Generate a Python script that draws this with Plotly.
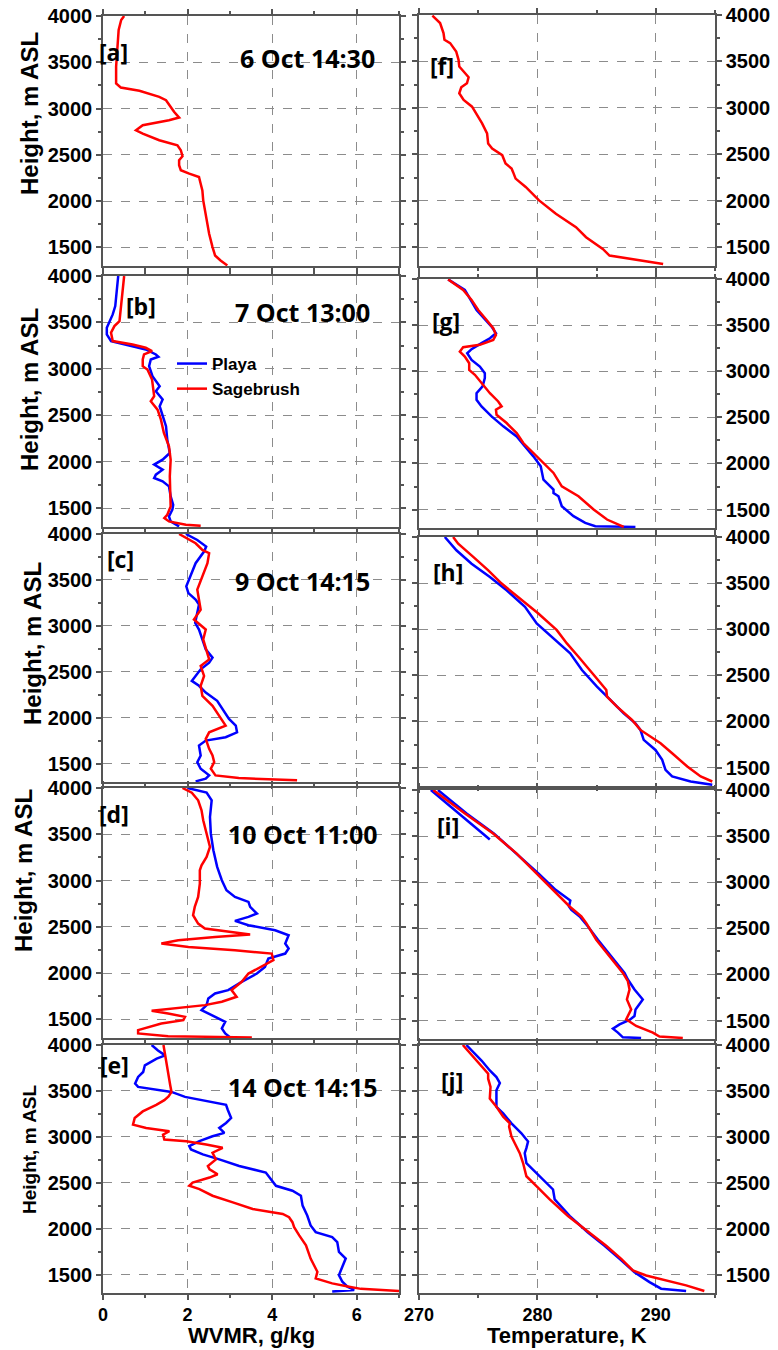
import plotly.graph_objects as go

# ---------------- profile data (height m ASL, value) ----------------
# 6 Oct 14:30
H_A_SAGE = [4000, 3957, 3849, 3704, 3560, 3452, 3271, 3228, 3192, 3127, 3091, 3019, 2965, 2903, 2875, 2820,
            2766, 2730, 2658, 2604, 2550, 2485, 2442, 2388, 2334, 2298, 2261, 2189, 2117, 2009, 1829, 1648,
            1504, 1414, 1360, 1306]
WV_A_SAGE = [0.50, 0.43, 0.37, 0.35, 0.34, 0.31, 0.31, 0.42, 0.86, 1.33, 1.49, 1.60, 1.68, 1.80, 1.56, 0.94,
             0.78, 0.94, 1.33, 1.76, 1.84, 1.88, 1.80, 1.80, 1.84, 2.04, 2.27, 2.31, 2.35, 2.37, 2.44, 2.51,
             2.59, 2.65, 2.78, 2.94]
H_F_SAGE = [3993, 3914, 3806, 3734, 3698, 3608, 3518, 3446, 3392, 3330, 3266, 3222, 3158, 3086, 3014, 2942,
            2834, 2726, 2618, 2564, 2492, 2402, 2348, 2312, 2240, 2150, 2006, 1862, 1718, 1610, 1484, 1412,
            1376, 1322]
T_F_SAGE = [271.13, 271.78, 272.07, 272.15, 272.63, 273.14, 273.34, 273.40, 273.77, 274.19, 274.05, 273.57,
            273.40, 273.77, 274.48, 274.82, 275.33, 275.75, 275.84, 276.18, 277.03, 277.31, 277.82, 277.94,
            278.16, 279.01, 280.14, 281.56, 283.26, 284.11, 285.52, 286.09, 287.79, 290.62]

# 7 Oct 13:00
H_B_PLAYA = [4000, 3820, 3677, 3587, 3497, 3443, 3371, 3300, 3253, 3210, 3156, 3131, 3102, 3030, 2922, 2815,
             2761, 2671, 2599, 2491, 2384, 2240, 2096, 2024, 1971, 1917, 1863, 1827, 1791, 1737, 1629, 1539,
             1486, 1414, 1360, 1306]
WV_B_PLAYA = [0.36, 0.32, 0.29, 0.23, 0.15, 0.09, 0.09, 0.19, 0.62, 1.01, 1.25, 1.31, 1.13, 1.09, 1.17, 1.34,
              1.25, 1.41, 1.34, 1.42, 1.49, 1.52, 1.58, 1.41, 1.21, 1.41, 1.25, 1.21, 1.41, 1.56, 1.60, 1.66,
              1.64, 1.56, 1.60, 1.80]
H_B_SAGE = [4000, 3820, 3641, 3515, 3461, 3389, 3300, 3264, 3228, 3192, 3156, 3102, 3030, 2994, 2886, 2779,
            2707, 2653, 2599, 2563, 2455, 2312, 2168, 2024, 1845, 1665, 1521, 1432, 1396, 1360, 1324, 1313]
WV_B_SAGE = [0.50, 0.46, 0.42, 0.39, 0.27, 0.19, 0.23, 0.70, 1.01, 1.16, 0.97, 0.94, 0.94, 1.05, 1.16, 1.19,
             1.21, 1.13, 1.23, 1.29, 1.37, 1.44, 1.56, 1.60, 1.58, 1.60, 1.60, 1.52, 1.45, 1.56, 1.96, 2.31]
H_G_PLAYA = [3996, 3881, 3664, 3484, 3412, 3358, 3304, 3239, 3195, 3123, 3051, 2979, 2925, 2835, 2762, 2690,
             2618, 2510, 2402, 2293, 2185, 2077, 1969, 1824, 1716, 1680, 1644, 1536, 1428, 1355, 1319, 1312]
T_G_PLAYA = [272.46, 273.87, 274.86, 276.13, 276.50, 275.99, 275.28, 274.44, 274.07, 274.44, 275.14, 275.56,
             275.56, 275.37, 274.86, 274.86, 275.28, 276.13, 277.12, 278.25, 278.95, 279.66, 280.28, 280.51,
             281.36, 281.36, 281.78, 282.06, 283.05, 284.04, 284.89, 288.28]
H_G_SAGE = [3996, 3881, 3773, 3664, 3556, 3466, 3394, 3340, 3286, 3260, 3213, 3159, 3087, 3015, 2961, 2871,
            2762, 2672, 2618, 2582, 2528, 2438, 2330, 2221, 2113, 2005, 1897, 1752, 1644, 1500, 1392, 1312]
T_G_SAGE = [272.46, 273.73, 274.44, 275.00, 275.71, 276.27, 276.50, 276.27, 275.14, 273.73, 273.45, 273.87,
            274.24, 274.24, 274.72, 275.28, 275.99, 276.69, 276.98, 276.50, 276.55, 277.40, 278.25, 278.81,
            279.66, 280.51, 281.36, 282.06, 283.47, 284.75, 285.88, 287.29]

# 9 Oct 14:15
H_C_PLAYA = [4000, 3935, 3863, 3809, 3682, 3538, 3430, 3357, 3285, 3231, 3141, 3033, 2960, 2852, 2744, 2654,
             2599, 2527, 2455, 2401, 2347, 2274, 2184, 2094, 1986, 1914, 1841, 1787, 1751, 1697, 1589, 1516,
             1444, 1372, 1336, 1307]
WV_C_PLAYA = [1.96, 2.23, 2.44, 2.39, 2.19, 2.07, 1.97, 2.02, 2.19, 2.27, 2.23, 2.18, 2.27, 2.35, 2.43, 2.59,
              2.51, 2.31, 2.19, 2.10, 2.27, 2.43, 2.70, 2.82, 2.98, 3.14, 3.17, 2.90, 2.43, 2.27, 2.31, 2.23,
              2.31, 2.51, 2.43, 2.19]
H_C_SAGE = [4000, 3899, 3827, 3791, 3682, 3538, 3394, 3285, 3177, 3069, 2960, 2852, 2744, 2635, 2563, 2455,
            2347, 2238, 2130, 2022, 1914, 1841, 1769, 1661, 1589, 1516, 1444, 1372, 1343, 1318]
WV_C_SAGE = [1.80, 2.19, 2.35, 2.51, 2.47, 2.35, 2.23, 2.27, 2.31, 2.15, 2.43, 2.37, 2.44, 2.51, 2.31, 2.39,
             2.31, 2.35, 2.59, 2.74, 2.90, 2.51, 2.43, 2.51, 2.59, 2.63, 2.55, 2.66, 3.21, 4.59]
H_H_PLAYA = [4000, 3856, 3711, 3567, 3423, 3243, 3062, 2918, 2738, 2557, 2377, 2233, 2088, 1980, 1908, 1800,
             1691, 1583, 1475, 1403, 1349, 1313]
T_H_PLAYA = [272.18, 273.16, 274.44, 275.99, 277.40, 278.95, 279.94, 281.21, 282.77, 283.76, 285.03, 286.16,
             287.29, 288.28, 288.70, 288.98, 289.97, 290.54, 290.82, 291.38, 292.94, 294.77]
H_H_SAGE = [4000, 3928, 3784, 3639, 3495, 3351, 3170, 2990, 2846, 2701, 2557, 2485, 2341, 2269, 2160, 2016,
            1908, 1764, 1655, 1511, 1403, 1349]
T_H_SAGE = [272.88, 273.31, 274.58, 275.85, 276.98, 278.39, 280.08, 281.64, 282.49, 283.47, 284.46, 284.89,
            285.82, 285.88, 286.72, 287.99, 288.70, 290.40, 291.38, 292.66, 293.79, 294.77]

# 10 Oct 11:00
H_D_PLAYA = [4000, 3950, 3867, 3687, 3507, 3327, 3148, 3004, 2896, 2824, 2770, 2716, 2644, 2608, 2565, 2518,
             2464, 2410, 2320, 2266, 2212, 2158, 2068, 1996, 1907, 1817, 1781, 1727, 1655, 1601, 1547, 1475,
             1403, 1349, 1295]
WV_D_PLAYA = [2.00, 2.45, 2.57, 2.53, 2.55, 2.61, 2.70, 2.81, 2.92, 3.12, 3.44, 3.48, 3.64, 3.44, 3.12, 3.44,
              4.07, 4.39, 4.31, 4.39, 4.31, 3.91, 3.83, 3.64, 3.28, 2.96, 2.65, 2.49, 2.45, 2.33, 2.57, 2.89,
              2.81, 2.89, 3.04]
H_D_SAGE = [4000, 3950, 3867, 3759, 3651, 3507, 3363, 3255, 3165, 3112, 2968, 2824, 2716, 2626, 2536, 2482,
            2446, 2417, 2392, 2356, 2320, 2284, 2248, 2212, 2140, 2068, 1996, 1907, 1817, 1745, 1691, 1655,
            1619, 1594, 1565, 1529, 1493, 1457, 1385, 1349, 1320, 1306]
WV_D_SAGE = [1.88, 2.10, 2.25, 2.33, 2.37, 2.45, 2.53, 2.45, 2.33, 2.29, 2.29, 2.25, 2.17, 2.13, 2.25, 2.41,
             2.96, 3.48, 2.65, 1.78, 1.38, 2.02, 3.12, 3.99, 4.03, 3.75, 3.44, 3.28, 3.04, 3.16, 2.81, 2.41,
             1.70, 1.15, 1.54, 1.94, 1.90, 1.38, 0.83, 0.83, 1.54, 3.52]
# the Playa temperature record contains a separate short upper segment (gap marked by None)
H_I_PLAYA = [4000, 3464, None, 4000, 3745, 3529, 3313, 3097, 2917, 2802, 2737, 2701, 2629, 2521, 2377, 2197,
             2017, 1945, 1837, 1729, 1621, 1549, 1506, 1459, 1412, 1369, 1318, 1311]
T_I_PLAYA = [271.0, 275.98, None, 271.6, 274.02, 276.32, 278.23, 280.06, 281.54, 282.78, 282.67, 282.87,
             283.57, 284.27, 285.11, 286.24, 287.36, 287.64, 288.20, 288.90, 288.29, 288.20, 287.78, 286.94,
             286.38, 286.80, 287.22, 288.76]
H_I_SAGE = [4000, 3745, 3529, 3313, 3097, 2917, 2809, 2737, 2629, 2557, 2377, 2197, 2017, 1927, 1837, 1729,
            1621, 1513, 1441, 1369, 1326, 1311]
T_I_SAGE = [271.2, 273.88, 276.26, 278.23, 279.92, 281.32, 282.16, 282.72, 283.71, 284.13, 284.97, 286.10,
            287.22, 287.64, 287.78, 287.56, 287.92, 287.50, 288.34, 289.75, 290.31, 292.28]

# 14 Oct 14:15
H_E_PLAYA = [4000, 3941, 3887, 3851, 3779, 3706, 3652, 3580, 3544, 3489, 3435, 3399, 3349, 3295, 3205, 3151,
             3097, 3043, 3007, 2953, 2899, 2863, 2809, 2755, 2683, 2611, 2539, 2467, 2413, 2359, 2251, 2143,
             2035, 1963, 1909, 1855, 1747, 1675, 1585, 1495, 1423, 1369, 1333, 1315]
WV_E_PLAYA = [1.15, 1.30, 1.47, 1.27, 0.99, 0.95, 0.83, 0.76, 0.83, 1.62, 1.94, 2.33, 2.91, 2.95, 3.03, 2.91,
              2.75, 2.87, 2.59, 2.28, 2.04, 2.08, 2.36, 2.75, 3.22, 3.85, 3.96, 4.09, 4.48, 4.68, 4.72, 4.83,
              4.91, 5.03, 5.42, 5.54, 5.58, 5.74, 5.66, 5.58, 5.66, 5.78, 5.94, 5.42]
H_E_SAGE = [4000, 3887, 3743, 3562, 3489, 3440, 3400, 3349, 3277, 3205, 3133, 3097, 3061, 3025, 2971, 2953,
            2917, 2881, 2827, 2755, 2683, 2647, 2593, 2557, 2503, 2467, 2431, 2359, 2287, 2215, 2161, 2125,
            2071, 2017, 1927, 1819, 1675, 1603, 1531, 1459, 1405, 1369, 1345, 1322]
WV_E_SAGE = [1.43, 1.47, 1.51, 1.59, 1.62, 1.55, 1.45, 1.26, 0.94, 0.75, 0.71, 1.02, 1.57, 1.42, 1.45, 1.97,
             2.44, 2.83, 2.59, 2.67, 2.48, 2.52, 2.71, 2.52, 2.12, 2.04, 2.28, 2.59, 3.07, 3.54, 4.25, 4.40,
             4.48, 4.52, 4.64, 4.80, 4.91, 4.99, 5.07, 5.03, 5.42, 5.82, 6.10, 7.0]
H_J_PLAYA = [4000, 3831, 3723, 3651, 3586, 3507, 3435, 3327, 3255, 3147, 3039, 2949, 2877, 2823, 2715, 2607,
             2499, 2427, 2319, 2139, 1959, 1815, 1671, 1527, 1419, 1347, 1322]
T_J_PLAYA = [274.0, 275.28, 275.98, 276.54, 276.83, 276.54, 276.54, 276.54, 277.11, 277.81, 278.65, 279.21,
             279.07, 278.93, 279.07, 279.92, 280.76, 281.32, 281.46, 282.72, 284.27, 285.67, 286.94, 288.20,
             289.47, 290.45, 292.56]
H_J_SAGE = [4000, 3831, 3759, 3687, 3633, 3543, 3417, 3327, 3219, 3147, 3111, 3003, 2931, 2823, 2715, 2571,
            2463, 2319, 2139, 1959, 1815, 1671, 1545, 1491, 1437, 1383, 1322]
T_J_SAGE = [273.7, 274.86, 275.42, 275.84, 275.84, 276.04, 275.98, 276.54, 277.11, 277.67, 277.61, 277.81,
            278.09, 278.51, 278.79, 279.07, 279.92, 281.04, 282.58, 284.41, 285.81, 287.08, 288.06, 289.19,
            290.87, 292.56, 294.10]

PANEL_TAGS_LEFT = ["[a]", "[b]", "[c]", "[d]", "[e]"]
PANEL_TAGS_RIGHT = ["[f]", "[g]", "[h]", "[i]", "[j]"]
DATES = ["6 Oct 14:30", "7 Oct 13:00", "9 Oct 14:15", "10 Oct 11:00", "14 Oct 14:15"]
SERIES_NAMES = ["Playa", "Sagebrush"]
WV_TICKS = [0, 2, 4, 6]
T_TICKS = [270, 280, 290]
H_TICKS = [1500, 2000, 2500, 3000, 3500, 4000]

# ---------------- layout geometry (pixels) ----------------
W, HGT = 778, 1350
ROWS_L = [(16, 266), (276, 527), (534, 782), (788, 1038), (1045, 1293)]
ROWS_R = [(15, 266), (279, 528), (537, 786), (790, 1039), (1045, 1293)]
COL_L = (103, 399)
COL_R = (419, 715)

BLUE = "#0000ff"
RED = "#ff0000"
FRAME = "#555555"
GRID = "#8c8c8c"
TICKFONT = dict(family="Liberation Sans, Arial, sans-serif", size=20, color="black", weight="bold")
XTICKFONT = dict(family="Liberation Sans, Arial, sans-serif", size=18, color="black", weight="bold")


def px_x(x):
    return x / W


def px_y(y):
    return 1 - y / HGT


left_sets = [
    [(None, None), (H_A_SAGE, WV_A_SAGE)],
    [(H_B_PLAYA, WV_B_PLAYA), (H_B_SAGE, WV_B_SAGE)],
    [(H_C_PLAYA, WV_C_PLAYA), (H_C_SAGE, WV_C_SAGE)],
    [(H_D_PLAYA, WV_D_PLAYA), (H_D_SAGE, WV_D_SAGE)],
    [(H_E_PLAYA, WV_E_PLAYA), (H_E_SAGE, WV_E_SAGE)],
]
right_sets = [
    [(None, None), (H_F_SAGE, T_F_SAGE)],
    [(H_G_PLAYA, T_G_PLAYA), (H_G_SAGE, T_G_SAGE)],
    [(H_H_PLAYA, T_H_PLAYA), (H_H_SAGE, T_H_SAGE)],
    [(H_I_PLAYA, T_I_PLAYA), (H_I_SAGE, T_I_SAGE)],
    [(H_J_PLAYA, T_J_PLAYA), (H_J_SAGE, T_J_SAGE)],
]

fig = go.Figure()
layout_axes = {}


def axis_common():
    return dict(
        ticks="outside", ticklen=5, tickwidth=1.5, tickcolor=FRAME,
        showline=True, linecolor=FRAME, linewidth=1.5, mirror="ticks",
        showgrid=True, gridcolor=GRID, griddash="dash", gridwidth=1,
        zeroline=False, tickfont=TICKFONT, fixedrange=True, automargin=False,
    )


for col in range(2):
    for row in range(5):
        k = col * 5 + row + 1
        rows = ROWS_L if col == 0 else ROWS_R
        top, bot = rows[row]
        cx = COL_L if col == 0 else COL_R
        sets = left_sets if col == 0 else right_sets

        xa = axis_common()
        xa.update(domain=[px_x(cx[0]), px_x(cx[1])], anchor=f"y{k}",
                  showticklabels=(row == 4), tickfont=XTICKFONT)
        if col == 0:
            xa.update(range=[0, 7], tickvals=WV_TICKS,
                      minor=dict(dtick=1, tick0=0, ticks="outside", ticklen=3, tickcolor=FRAME))
        else:
            xa.update(range=[270, 295], tickvals=T_TICKS,
                      minor=dict(dtick=5, tick0=270, ticks="outside", ticklen=3, tickcolor=FRAME))

        ya = axis_common()
        ya.update(domain=[px_y(bot), px_y(top)], anchor=f"x{k}", range=[1300, 4000],
                  tickvals=H_TICKS, side="left" if col == 0 else "right",
                  minor=dict(dtick=250, tick0=0, ticks="outside", ticklen=3, tickcolor=FRAME))

        layout_axes["xaxis" if k == 1 else f"xaxis{k}"] = xa
        layout_axes["yaxis" if k == 1 else f"yaxis{k}"] = ya

        for (hh, vv), color, name in zip(sets[row], [BLUE, RED], SERIES_NAMES):
            if hh is None:
                continue
            fig.add_trace(go.Scatter(
                x=vv, y=hh, mode="lines", name=name,
                line=dict(color=color, width=2.5),
                xaxis=f"x{k}", yaxis=f"y{k}",
                showlegend=(col == 0 and row == 1),
                connectgaps=False, hoverinfo="skip",
            ))

annotations = []
BOLD_LABEL = dict(family="Open Sans, Liberation Sans, sans-serif", color="black", weight="bold")
TITLE_FONT = dict(family="Liberation Sans, Arial, sans-serif", color="black", weight="bold")

tag_pos_left = [(113, 52), (141, 306), (120, 559), (114, 814), (114, 1065)]
tag_pos_right = [(442, 66), (446, 321), (448, 572), (448, 826), (452, 1081)]
date_pos = [(307, 58), (302, 312), (302, 581), (303, 834), (303, 1087)]
height_title = [(30, 114, 24), (30, 390, 24), (32, 644, 24), (23, 871, 24), (29, 1149, 19)]

for i in range(5):
    for (x, y), txt in [(tag_pos_left[i], PANEL_TAGS_LEFT[i]), (tag_pos_right[i], PANEL_TAGS_RIGHT[i])]:
        annotations.append(dict(x=px_x(x), y=px_y(y), xref="paper", yref="paper", text=txt,
                                showarrow=False, xanchor="center", yanchor="middle",
                                font=dict(size=23, **BOLD_LABEL)))
    x, y = date_pos[i]
    annotations.append(dict(x=px_x(x), y=px_y(y), xref="paper", yref="paper", text=DATES[i],
                            showarrow=False, xanchor="center", yanchor="middle",
                            font=dict(size=25, **BOLD_LABEL)))
    x, y, s = height_title[i]
    annotations.append(dict(x=px_x(x), y=px_y(y), xref="paper", yref="paper", text="Height, m ASL",
                            textangle=-90, showarrow=False, xanchor="center", yanchor="middle",
                            font=dict(size=s, **TITLE_FONT)))

# bottom axis titles sit flush with the lower page edge
for xc, txt in [(251, "WVMR, g/kg"), (567, "Temperature, K")]:
    annotations.append(dict(x=px_x(xc), y=px_y(1349), xref="paper", yref="paper", text=txt,
                            showarrow=False, xanchor="center", yanchor="bottom", borderpad=0,
                            font=dict(size=22, **TITLE_FONT)))

fig.update_layout(
    width=W, height=HGT,
    margin=dict(l=0, r=0, t=0, b=0, autoexpand=False),
    paper_bgcolor="white", plot_bgcolor="white",
    annotations=annotations,
    legend=dict(x=px_x(172), y=px_y(346), xanchor="left", yanchor="top",
                bgcolor="rgba(0,0,0,0)", borderwidth=0, tracegroupgap=0,
                font=dict(family="Liberation Sans, Arial, sans-serif", size=17, color="black", weight="bold")),
    **layout_axes,
)

fig.write_html("out.html")
